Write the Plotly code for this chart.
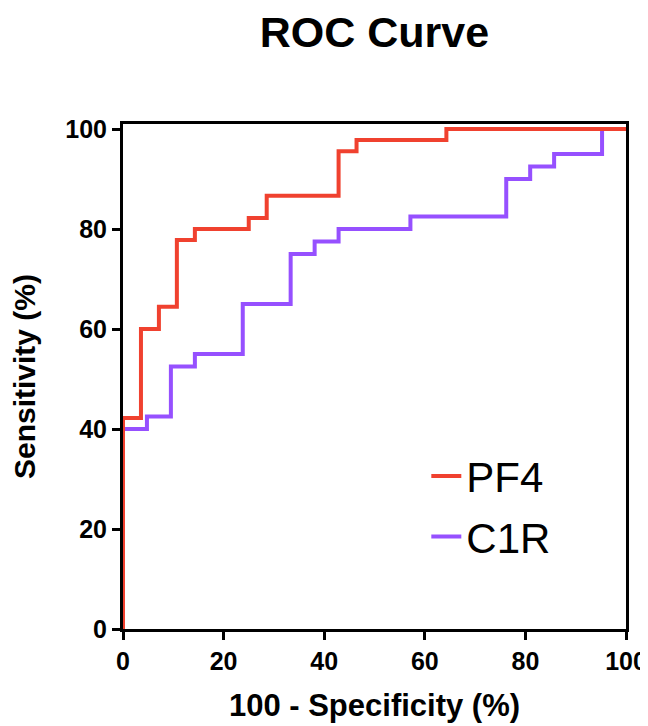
import plotly.graph_objects as go

# ROC coordinates (percent), corners of the step curves
pf4_fpr = [0, 0, 3.57, 7.14, 10.71, 14.29, 25.0, 28.57, 42.86, 46.43, 64.29, 100]
pf4_tpr = [0, 42.22, 60.0, 64.44, 77.78, 80.0, 82.22, 86.67, 95.56, 97.78, 100, 100]

c1r_fpr = [0, 0, 4.76, 9.52, 14.29, 23.81, 33.33, 38.10, 42.86, 57.14, 76.19, 80.95, 85.71, 95.24, 100]
c1r_tpr = [0, 40.0, 42.5, 52.5, 55.0, 65.0, 75.0, 77.5, 80.0, 82.5, 90.0, 92.5, 95.0, 100, 100]

tick_vals = [0, 20, 40, 60, 80, 100]

FONT = "Liberation Sans, Arial, sans-serif"

fig = go.Figure()
# C1R first so the red curve sits on top, legend order fixed by legendrank
fig.add_trace(go.Scatter(x=c1r_fpr, y=c1r_tpr, name="C1R", mode="lines", legendgroup="c1r",
                         line=dict(color="#9650FF", width=4, shape="hv"), legendrank=2))
fig.add_trace(go.Scatter(x=pf4_fpr, y=pf4_tpr, name="PF4", mode="lines", legendgroup="pf4",
                         line=dict(color="#F0412F", width=4, shape="hv"), legendrank=1))

axis_common = dict(showline=True, linecolor="black", linewidth=3, mirror=True,
                   ticks="outside", ticklen=8, tickwidth=3, tickcolor="black",
                   showgrid=False, zeroline=False, layer="below traces",
                   tickvals=tick_vals, automargin=False,
                   tickfont=dict(family=FONT, size=25, color="black", weight="bold"))

fig.update_xaxes(range=[0, 100], title=dict(text="100 - Specificity (%)", standoff=21,
                 font=dict(family=FONT, size=31, color="black", weight="bold")), **axis_common)
fig.update_yaxes(range=[0, 101], title=dict(text="Sensitivity (%)", standoff=26,
                 font=dict(family=FONT, size=30, color="black", weight="bold")), **axis_common)

# page body adds an 8px offset, so the figure is 8px smaller and margins shifted
fig.update_layout(
    width=640, height=718,
    margin=dict(l=115, r=22, t=116, b=97, autoexpand=False),
    paper_bgcolor="white", plot_bgcolor="white",
    title=dict(text="ROC Curve", x=0.5, xref="paper", y=0.966, yanchor="middle",
               font=dict(family=FONT, size=43, color="black", weight="bold")),
    legend=dict(x=0.603, y=0.37, xanchor="left", yanchor="top", bgcolor="rgba(0,0,0,0)",
                tracegroupgap=3, font=dict(family=FONT, size=42, color="black")),
    showlegend=True,
)

fig.write_html("out.html")
